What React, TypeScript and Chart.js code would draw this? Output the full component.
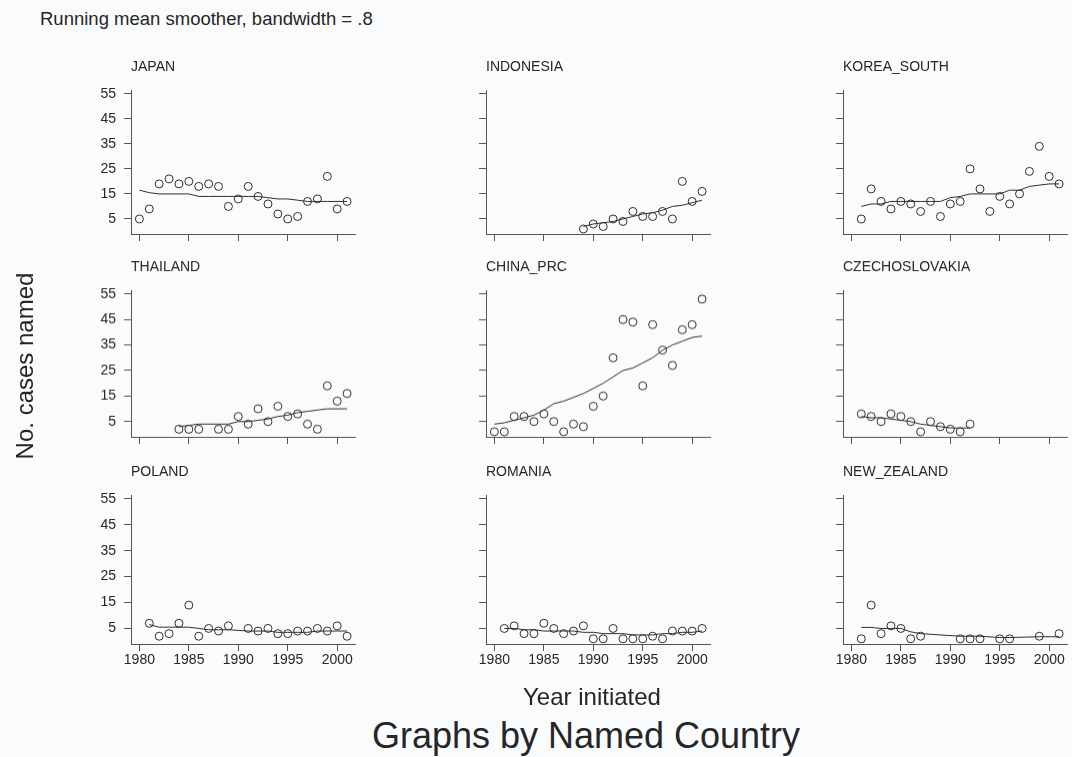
import React, { useEffect, useRef } from "react";
import { Chart, registerables } from "chart.js";

Chart.register(...registerables);

// ---------------- data ----------------
const X_TICKS = [1980, 1985, 1990, 1995, 2000];
const Y_TICKS = [5, 15, 25, 35, 45, 55];

const YEARS_JAPAN = [1980, 1981, 1982, 1983, 1984, 1985, 1986, 1987, 1988, 1989, 1990, 1991, 1992, 1993, 1994, 1995, 1996, 1997, 1998, 1999, 2000, 2001];
const CASES_JAPAN = [5, 9, 19, 21, 19, 20, 18, 19, 18, 10, 13, 18, 14, 11, 7, 5, 6, 12, 13, 22, 9, 12];
const SMOOTH_JAPAN = [16.5, 15.5, 15, 15, 15, 15, 14, 14, 14, 14, 14, 14, 14, 13.5, 13, 13, 12.5, 12, 12, 12, 12, 12];

const YEARS_INDONESIA = [1989, 1990, 1991, 1992, 1993, 1994, 1995, 1996, 1997, 1998, 1999, 2000, 2001];
const CASES_INDONESIA = [1, 3, 2, 5, 4, 8, 6, 6, 8, 5, 20, 12, 16];
const SMOOTH_INDONESIA = [2, 3, 3.5, 4, 5, 6, 7, 7.5, 8.5, 10, 10.5, 11.5, 12.5];

const YEARS_KOREA = [1981, 1982, 1983, 1984, 1985, 1986, 1987, 1988, 1989, 1990, 1991, 1992, 1993, 1994, 1995, 1996, 1997, 1998, 1999, 2000, 2001];
const CASES_KOREA = [5, 17, 12, 9, 12, 11, 8, 12, 6, 11, 12, 25, 17, 8, 14, 11, 15, 24, 34, 22, 19];
const SMOOTH_KOREA = [10, 11, 11, 12, 12, 12, 12, 12, 12, 13.5, 14, 15, 15, 15, 15, 16.5, 16.5, 18, 18.5, 19, 19];

const YEARS_THAILAND = [1984, 1985, 1986, 1988, 1989, 1990, 1991, 1992, 1993, 1994, 1995, 1996, 1997, 1998, 1999, 2000, 2001];
const CASES_THAILAND = [2, 2, 2, 2, 2, 7, 4, 10, 5, 11, 7, 8, 4, 2, 19, 13, 16];
const SMOOTH_THAILAND = [3, 3.5, 4, 4, 4, 5, 5, 5.5, 6, 7, 7.5, 8.5, 9, 9.5, 10, 10, 10];

const YEARS_CHINA = [1980, 1981, 1982, 1983, 1984, 1985, 1986, 1987, 1988, 1989, 1990, 1991, 1992, 1993, 1994, 1995, 1996, 1997, 1998, 1999, 2000, 2001];
const CASES_CHINA = [1, 1, 7, 7, 5, 8, 5, 1, 4, 3, 11, 15, 30, 45, 44, 19, 43, 33, 27, 41, 43, 53];
const SMOOTH_CHINA = [4, 4.5, 5.5, 6.5, 7.5, 9.5, 12, 13, 14.5, 16, 18, 20, 22.5, 25, 26, 28, 30, 33, 35, 36.5, 38, 38.5];

const YEARS_CZECH = [1981, 1982, 1983, 1984, 1985, 1986, 1987, 1988, 1989, 1990, 1991, 1992];
const CASES_CZECH = [8, 7, 5, 8, 7, 5, 1, 5, 3, 2, 1, 4];
const SMOOTH_CZECH = [7, 6.5, 6.5, 6, 5.5, 5, 4, 3.5, 3, 2.5, 2.5, 2.5];

const YEARS_POLAND = [1981, 1982, 1983, 1984, 1985, 1986, 1987, 1988, 1989, 1991, 1992, 1993, 1994, 1995, 1996, 1997, 1998, 1999, 2000, 2001];
const CASES_POLAND = [7, 2, 3, 7, 14, 2, 5, 4, 6, 5, 4, 5, 3, 3, 4, 4, 5, 4, 6, 2];
const SMOOTH_POLAND = [6.5, 5.5, 5.5, 5.5, 5.5, 5, 4.5, 4.5, 4.5, 4, 4, 4, 3.5, 3.5, 3.5, 3.5, 4, 4, 4, 4];

const YEARS_ROMANIA = [1981, 1982, 1983, 1984, 1985, 1986, 1987, 1988, 1989, 1990, 1991, 1992, 1993, 1994, 1995, 1996, 1997, 1998, 1999, 2000, 2001];
const CASES_ROMANIA = [5, 6, 3, 3, 7, 5, 3, 4, 6, 1, 1, 5, 1, 1, 1, 2, 1, 4, 4, 4, 5];
const SMOOTH_ROMANIA = [5, 5, 4.5, 4.5, 4, 4, 4, 4, 3.5, 3.5, 3, 3, 3, 2.5, 2.5, 2.5, 3, 3, 3.5, 3.5, 4];

const YEARS_NZ = [1981, 1982, 1983, 1984, 1985, 1986, 1987, 1991, 1992, 1993, 1995, 1996, 1999, 2001];
const CASES_NZ = [1, 14, 3, 6, 5, 1, 2, 1, 1, 1, 1, 1, 2, 3];
const SMOOTH_NZ = [5.4, 5.4, 5, 5, 5, 3.7, 3, 2, 2, 2, 1.5, 1.5, 1.8, 1.8];

const PANELS = [
  { name: "JAPAN", years: YEARS_JAPAN, cases: CASES_JAPAN, smooth: SMOOTH_JAPAN },
  { name: "INDONESIA", years: YEARS_INDONESIA, cases: CASES_INDONESIA, smooth: SMOOTH_INDONESIA },
  { name: "KOREA_SOUTH", years: YEARS_KOREA, cases: CASES_KOREA, smooth: SMOOTH_KOREA },
  { name: "THAILAND", years: YEARS_THAILAND, cases: CASES_THAILAND, smooth: SMOOTH_THAILAND },
  { name: "CHINA_PRC", years: YEARS_CHINA, cases: CASES_CHINA, smooth: SMOOTH_CHINA },
  { name: "CZECHOSLOVAKIA", years: YEARS_CZECH, cases: CASES_CZECH, smooth: SMOOTH_CZECH },
  { name: "POLAND", years: YEARS_POLAND, cases: CASES_POLAND, smooth: SMOOTH_POLAND },
  { name: "ROMANIA", years: YEARS_ROMANIA, cases: CASES_ROMANIA, smooth: SMOOTH_ROMANIA },
  { name: "NEW_ZEALAND", years: YEARS_NZ, cases: CASES_NZ, smooth: SMOOTH_NZ },
];

// ---------------- layout / style ----------------
const FONT = '"Liberation Sans", Arial, Helvetica, sans-serif';
const TEXT = "#262626";
const AXIS = "#555555";
const MARK = "#2e2e2e";
const BG = "#fafbfc";

const COL_LEFT = [130.7, 486, 842.7];
const ROW_TOP = [89.5, 290, 494.5];
const ROW_H = [144.5, 146.5, 149];
const PLOT_W = 224;
const Y_AXIS_W = 50;
const TOP_PAD = 34;
const X_AXIS_H = 30;
const RIGHT_PAD = 12;
const X_MIN = 1979.15;
const X_MAX = 2001.8;
const Y_MIN = -1;
const Y_MAX = 56.5;

const panelTitlePlugin = {
  id: "panelTitle",
  afterDraw(chart: any, _args: any, opts: any) {
    const { ctx, chartArea } = chart;
    ctx.save();
    ctx.font = `14px ${FONT}`;
    ctx.fillStyle = TEXT;
    ctx.textAlign = "left";
    ctx.textBaseline = "middle";
    ctx.fillText(opts.text, chartArea.left, chartArea.top - 23);
    ctx.restore();
  },
};

function PanelChart({ idx }: { idx: number }) {
  const ref = useRef<HTMLCanvasElement | null>(null);
  const p = PANELS[idx];
  const row = Math.floor(idx / 3);
  const col = idx % 3;
  const w = Y_AXIS_W + PLOT_W + RIGHT_PAD;
  const h = TOP_PAD + ROW_H[row] + X_AXIS_H;

  useEffect(() => {
    if (!ref.current) return;
    const chart = new Chart(ref.current, {
      type: "scatter",
      data: {
        datasets: [
          {
            type: "scatter",
            data: p.years.map((x, i) => ({ x, y: p.cases[i] })),
            pointStyle: "circle",
            pointRadius: 4,
            pointHoverRadius: 4,
            borderColor: MARK,
            borderWidth: 1,
            backgroundColor: "rgba(0,0,0,0)",
            clip: false,
          } as any,
          {
            type: "line",
            data: p.years.map((x, i) => ({ x, y: p.smooth[i] })),
            borderColor: MARK,
            borderWidth: 1,
            pointRadius: 0,
            fill: false,
            tension: 0,
            clip: false,
          } as any,
        ],
      },
      options: {
        responsive: false,
        animation: false,
        layout: { padding: { top: TOP_PAD, right: RIGHT_PAD, left: 0, bottom: 0 } },
        plugins: {
          legend: { display: false },
          tooltip: { enabled: false },
          title: { display: false },
          panelTitle: { text: p.name },
        } as any,
        scales: {
          x: {
            type: "linear",
            min: X_MIN,
            max: X_MAX,
            afterFit: (s: any) => {
              s.height = X_AXIS_H;
            },
            afterBuildTicks: (s: any) => {
              s.ticks = X_TICKS.map((v) => ({ value: v }));
            },
            grid: { display: true, drawOnChartArea: false, drawTicks: true, tickLength: 7, color: AXIS, lineWidth: 1 },
            border: { display: true, color: AXIS, width: 1 },
            ticks: {
              display: row === 2,
              autoSkip: false,
              maxRotation: 0,
              padding: 1,
              color: TEXT,
              font: { family: FONT, size: 14 },
              callback: (v: any) => String(v),
            },
          },
          y: {
            type: "linear",
            min: Y_MIN,
            max: Y_MAX,
            afterFit: (s: any) => {
              s.width = Y_AXIS_W;
            },
            afterBuildTicks: (s: any) => {
              s.ticks = Y_TICKS.map((v) => ({ value: v }));
            },
            grid: { display: true, drawOnChartArea: false, drawTicks: true, tickLength: 7, color: AXIS, lineWidth: 1 },
            border: { display: true, color: AXIS, width: 1 },
            ticks: {
              display: col === 0,
              autoSkip: false,
              padding: 8,
              color: TEXT,
              font: { family: FONT, size: 14 },
              callback: (v: any) => String(v),
            },
          },
        },
      } as any,
      plugins: [panelTitlePlugin as any],
    });
    return () => chart.destroy();
  }, []);

  return (
    <canvas
      ref={ref}
      width={w}
      height={h}
      style={{
        position: "absolute",
        left: COL_LEFT[col] - Y_AXIS_W,
        top: ROW_TOP[row] - TOP_PAD,
        width: w,
        height: h,
      }}
    />
  );
}

export default function App() {
  return (
    <div
      style={{
        position: "absolute",
        left: 0,
        top: 0,
        width: 1072,
        height: 757,
        background: BG,
        overflow: "hidden",
        fontFamily: FONT,
        color: TEXT,
      }}
    >
      <div style={{ position: "absolute", left: 40, top: 8, fontSize: 18.5, lineHeight: "22px", whiteSpace: "nowrap" }}>
        Running mean smoother, bandwidth = .8
      </div>
      {PANELS.map((_, i) => (
        <PanelChart key={i} idx={i} />
      ))}
      <div
        style={{
          position: "absolute",
          left: 25,
          top: 366,
          fontSize: 24,
          lineHeight: "28px",
          whiteSpace: "nowrap",
          transform: "translate(-50%, -50%) rotate(-90deg)",
        }}
      >
        No. cases named
      </div>
      <div
        style={{
          position: "absolute",
          left: 592,
          top: 697,
          fontSize: 24,
          lineHeight: "28px",
          whiteSpace: "nowrap",
          transform: "translate(-50%, -50%)",
        }}
      >
        Year initiated
      </div>
      <div
        style={{
          position: "absolute",
          left: 586,
          top: 736,
          fontSize: 36,
          lineHeight: "42px",
          whiteSpace: "nowrap",
          transform: "translate(-50%, -50%)",
        }}
      >
        Graphs by Named Country
      </div>
    </div>
  );
}
